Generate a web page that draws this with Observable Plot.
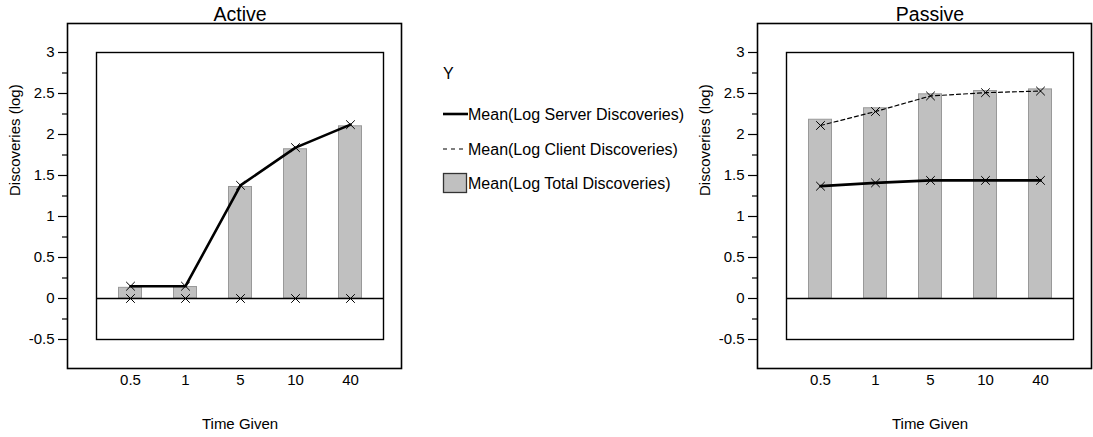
<!DOCTYPE html>
<html><head><meta charset="utf-8">
<script src="https://cdn.jsdelivr.net/npm/d3@7"></script>
<script src="https://cdn.jsdelivr.net/npm/@observablehq/plot@0.6"></script>
<style>
body{margin:0;background:#fff;font-family:"Liberation Sans",Arial,sans-serif;}
#wrap{position:relative;width:1093px;height:437px;overflow:hidden;background:#fff;}
#active{position:absolute;left:0;top:0;}
#legend{position:absolute;left:420px;top:0;}
#passive{position:absolute;left:690px;top:0;}
</style></head><body><div id="wrap"><div id="active"></div><div id="legend"></div><div id="passive"></div></div>
<script>
// ---- data ----
const timeGiven = ["0.5", "1", "5", "10", "40"];
const activeTotal = [0.13, 0.14, 1.36, 1.82, 2.10];
const activeServer = [0.15, 0.15, 1.38, 1.84, 2.12];
const activeClient = [0.0, 0.0, 0.0, 0.0, 0.0];
const passiveTotal = [2.18, 2.32, 2.49, 2.53, 2.55];
const passiveServer = [1.37, 1.41, 1.44, 1.44, 1.44];
const passiveClient = [2.11, 2.28, 2.47, 2.51, 2.53];
const yMajorTicks = [-0.5, 0, 0.5, 1, 1.5, 2, 2.5, 3];
const yMinorTicks = [-0.25, 0.25, 0.75, 1.25, 1.75, 2.25, 2.75];
const legendTitle = "Y";
const legendItems = ["Mean(Log Server Discoveries)", "Mean(Log Client Discoveries)", "Mean(Log Total Discoveries)"];
const legendKinds = ["solid", "dashed", "box"];

const FONT = "'Liberation Sans', Arial, sans-serif";

function panel(title, total, server, client, width) {
  const rows = timeGiven.map((t, i) => ({t, total: total[i], server: server[i], client: client[i]}));
  return Plot.plot({
    width, height: 437,
    marginLeft: 96, marginRight: width - 383, marginTop: 52, marginBottom: 98,
    style: {fontFamily: FONT, fontSize: "15px", color: "#000", background: "transparent", overflow: "visible"},
    x: {type: "band", domain: timeGiven, padding: 0.2, label: null},
    y: {domain: [-0.5, 3], label: null},
    marks: [
      Plot.barY(rows, {x: "t", y: "total", fill: "#c0c0c0", stroke: "#999", strokeWidth: 1, insetLeft: 10.5, insetRight: 10.5}),
      Plot.ruleY([0], {stroke: "#000", strokeWidth: 1.3}),
      Plot.frame({stroke: "#000", strokeWidth: 1.4}),
      Plot.frame({stroke: "#000", strokeWidth: 1.6, insetLeft: -29, insetTop: -29, insetBottom: -29, insetRight: -18}),
      Plot.line(rows, {x: "t", y: "client", stroke: "#000", strokeWidth: 1.2, strokeDasharray: "4,3"}),
      Plot.line(rows, {x: "t", y: "server", stroke: "#000", strokeWidth: 2.6}),
      Plot.dot(rows, {x: "t", y: "client", symbol: "times", r: 4, stroke: "#000", strokeWidth: 1}),
      Plot.dot(rows, {x: "t", y: "server", symbol: "times", r: 4, stroke: "#000", strokeWidth: 1}),
      Plot.axisY(yMajorTicks, {anchor: "left", tickSize: 9, tickPadding: 4, dx: -29, label: null, tickFormat: d => String(d), fontSize: 15, strokeWidth: 1.2}),
      Plot.axisY(yMinorTicks, {anchor: "left", tickSize: 5, dx: -29, fill: "none", label: null, strokeWidth: 1.2}),
      Plot.axisX({anchor: "bottom", tickSize: 0, tickPadding: 35, label: null, fontSize: 15}),
      Plot.text([title], {frameAnchor: "top", lineAnchor: "middle", dy: -38, fontSize: 19.5}),
      Plot.text(["Discoveries (log)"], {frameAnchor: "left", lineAnchor: "middle", dx: -81, rotate: -90, fontSize: 15}),
      Plot.text(["Time Given"], {frameAnchor: "bottom", lineAnchor: "middle", dy: 85, fontSize: 15})
    ]
  });
}

document.getElementById("active").append(panel("Active", activeTotal, activeServer, activeClient, 410));
document.getElementById("passive").append(panel("Passive", passiveTotal, passiveServer, passiveClient, 403));

// ---- legend ----
const leg = d3.select("#legend").append("svg")
  .attr("width", 270).attr("height", 220)
  .style("font-family", FONT).style("font-size", "16px");
leg.append("text").attr("x", 23).attr("y", 73).attr("dy", "0.35em").text(legendTitle);
const rowY = [114, 149, 183];
const g = leg.selectAll("g.item").data(legendItems).join("g").attr("class", "item")
  .attr("transform", (d, i) => `translate(0,${rowY[i]})`);
g.each(function(d, i) {
  const s = d3.select(this);
  const kind = legendKinds[i];
  if (kind === "solid") s.append("line").attr("x1", 23).attr("x2", 48).attr("stroke", "#000").attr("stroke-width", 2.6);
  else if (kind === "dashed") s.append("line").attr("x1", 23).attr("x2", 46).attr("stroke", "#000").attr("stroke-width", 1.2).attr("stroke-dasharray", "4,4");
  else s.append("rect").attr("x", 23.5).attr("y", -9.5).attr("width", 23).attr("height", 19).attr("fill", "#c0c0c0").attr("stroke", "#333").attr("stroke-width", 1.3);
  s.append("text").attr("x", 48).attr("dy", "0.35em").text(d);
});
</script></body></html>
